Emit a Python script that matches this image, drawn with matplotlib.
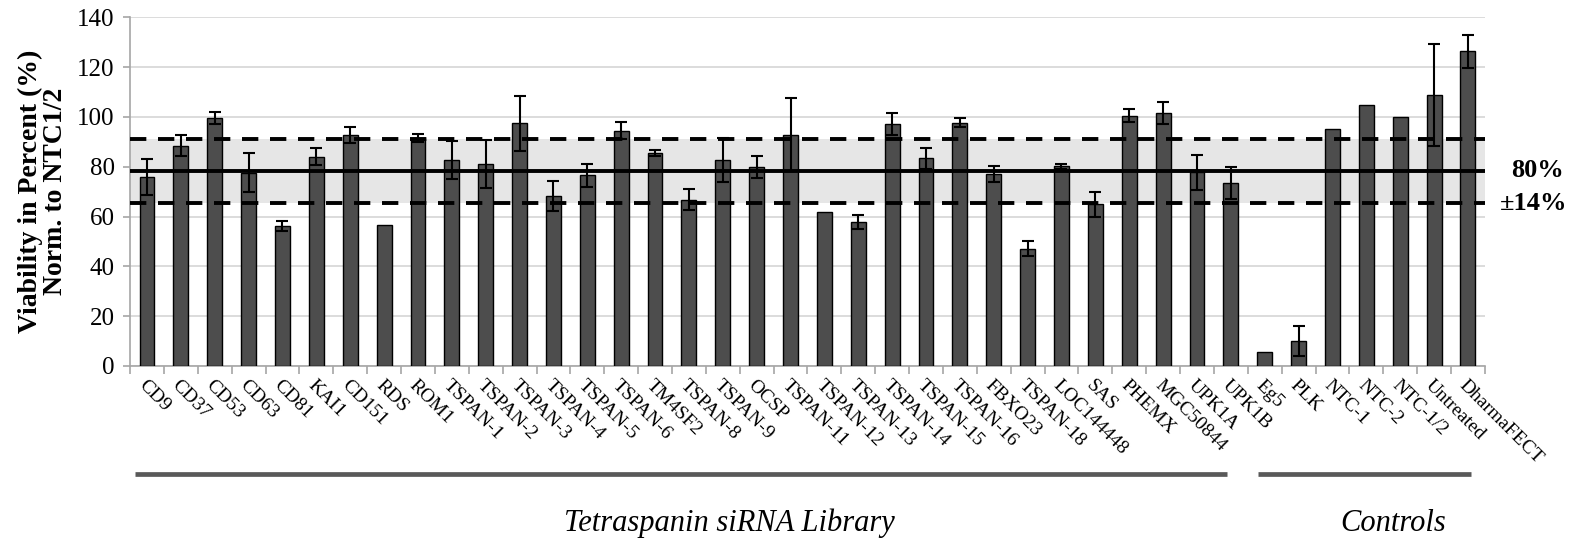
import numpy as np
import matplotlib
matplotlib.use("Agg")
from matplotlib import pyplot as plt
from matplotlib.ticker import MultipleLocator, FixedLocator

plt.rcParams['font.family'] = ['Liberation Serif', 'DejaVu Serif']

# siRNA targets and controls, in plotting order
library = ['CD9', 'CD37', 'CD53', 'CD63', 'CD81', 'KAI1', 'CD151', 'RDS', 'ROM1',
           'TSPAN-1', 'TSPAN-2', 'TSPAN-3', 'TSPAN-4', 'TSPAN-5', 'TSPAN-6', 'TM4SF2',
           'TSPAN-8', 'TSPAN-9', 'OCSP', 'TSPAN-11', 'TSPAN-12', 'TSPAN-13', 'TSPAN-14',
           'TSPAN-15', 'TSPAN-16', 'FBXO23', 'TSPAN-18', 'LOC144448', 'SAS', 'PHEMX',
           'MGC50844', 'UPK1A', 'UPK1B']
controls = ['Eg5', 'PLK', 'NTC-1', 'NTC-2', 'NTC-1/2', 'Untreated', 'DharmaFECT']

library_vals = [75.8, 88.4, 99.6, 77.6, 56.1, 84.0, 92.9, 56.5, 91.5,
                82.6, 81.2, 97.4, 68.1, 76.5, 94.5, 85.6,
                66.8, 82.8, 79.8, 92.9, 61.8, 57.8, 97.2,
                83.3, 97.7, 77.0, 47.0, 80.1, 64.9, 100.4,
                101.7, 77.8, 73.4]
library_err = [7.2, 4.3, 2.3, 7.8, 2.0, 3.5, 3.2, 0, 1.7,
               7.6, 9.6, 11.0, 6.0, 4.6, 3.3, 1.2,
               4.1, 8.8, 4.5, 14.7, 0, 2.7, 4.5,
               4.2, 1.8, 3.2, 3.0, 1.0, 5.0, 2.6,
               4.4, 7.0, 6.5]
control_vals = [5.7, 10.1, 95.2, 104.8, 99.9, 108.9, 126.3]
control_err = [0, 6.0, 0, 0, 0, 20.5, 6.7]

# mean viability of the library with its spread
mean_line = 78.3
spread = 12.9

names = library + controls
vals = np.array(library_vals + control_vals)
errs = np.array(library_err + control_err)
x = np.arange(len(names))

fig = plt.figure(figsize=(15.92, 5.39), dpi=100)
ax = fig.add_axes([0.0817, 0.321, 0.851, 0.647])

ax.set_xlim(-0.5, len(names) - 0.5)
ax.set_ylim(0, 140)
ax.yaxis.set_major_locator(MultipleLocator(20))
ax.grid(axis='y', color='#d9d9d9', linewidth=1.3, zorder=0)
ax.set_axisbelow(True)

ax.axhspan(mean_line - spread, mean_line + spread, color='#e6e6e6', zorder=1, linewidth=0)

ax.bar(x, vals, width=0.44, color='#4d4d4d', edgecolor='black', linewidth=1.0, zorder=3)
has_err = errs > 0
ax.errorbar(x[has_err], vals[has_err], yerr=errs[has_err], fmt='none', ecolor='black',
            elinewidth=1.5, capsize=4.5, capthick=1.5, zorder=4)

ax.axhline(mean_line, color='black', linewidth=2.8, zorder=5)
for yy in (mean_line - spread, mean_line + spread):
    ax.axhline(yy, color='black', linewidth=2.8, linestyle=(0, (4.2, 3.0)), zorder=5)

for side in ('top', 'right'):
    ax.spines[side].set_visible(False)
for side in ('left', 'bottom'):
    ax.spines[side].set_color('#a6a6a6')
    ax.spines[side].set_linewidth(1.2)

ax.tick_params(axis='y', length=5, width=1.2, color='#a6a6a6', pad=6, labelsize=18)
ax.set_xticks(x)
ax.set_xticklabels(names, rotation=-45, ha='left', va='top', rotation_mode='anchor', fontsize=14)
ax.tick_params(axis='x', which='major', length=0, pad=8)
ax.xaxis.set_minor_locator(FixedLocator(np.arange(len(names) + 1) - 0.5))
ax.tick_params(axis='x', which='minor', length=6, color='#a6a6a6', width=1.2)

ax.set_ylabel('Viability in Percent (%)\nNorm. to NTC1/2', fontsize=20, fontweight='bold',
              linespacing=1.0, labelpad=7)

# right-hand annotation of the mean band
ax.text(1.058, mean_line, '80%', transform=ax.get_yaxis_transform(), fontsize=19,
        fontweight='bold', ha='right', va='center')
ax.text(1.061, mean_line - spread, '±14%', transform=ax.get_yaxis_transform(), fontsize=19,
        fontweight='bold', ha='right', va='center')

# group brackets under the tick labels
tr = ax.get_xaxis_transform()
groups = [(-0.35, 31.9, 17.2, 'Tetraspanin siRNA Library'), (32.8, 39.1, 36.8, 'Controls')]
for x0, x1, xt, label in groups:
    ax.plot([x0, x1], [-0.31, -0.31], transform=tr, color='#595959', linewidth=3.4,
            clip_on=False, solid_capstyle='butt')
    ax.text(xt, -0.452, label, transform=tr, fontsize=22, style='italic',
            ha='center', va='center')

fig.savefig('out.png', dpi=100)
